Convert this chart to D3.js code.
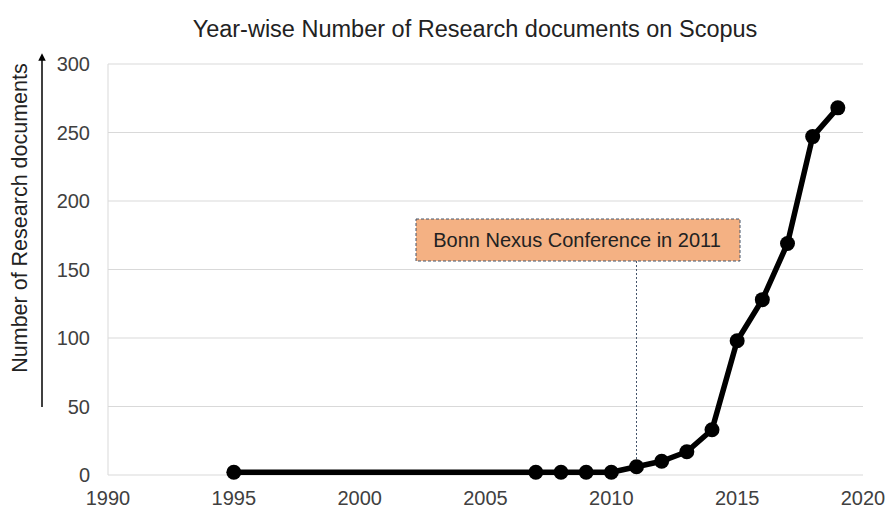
<!DOCTYPE html>
<html>
<head>
<meta charset="utf-8">
<script src="https://cdn.jsdelivr.net/npm/d3@7"></script>
<style>
  body { margin: 0; background: #fff; }
  svg text { font-family: "Liberation Sans", Arial, sans-serif; }
</style>
</head>
<body>
<svg width="887" height="509"></svg>
<script>
const svg = d3.select("svg");

// data
const years = [1995, 2007, 2008, 2009, 2010, 2011, 2012, 2013, 2014, 2015, 2016, 2017, 2018, 2019];
const docs = [2, 2, 2, 2, 2, 6, 10, 17, 33, 98, 128, 169, 247, 268];
const xTicks = [1990, 1995, 2000, 2005, 2010, 2015, 2020];
const yTicks = [0, 50, 100, 150, 200, 250, 300];
const noteYear = 2011;
const noteText = "Bonn Nexus Conference in 2011";

const margin = { left: 108, right: 24, top: 64, bottom: 34 };
const width = 887, height = 509;

const x = d3.scaleLinear().domain([1990, 2020]).range([margin.left, width - margin.right]);
const y = d3.scaleLinear().domain([0, 300]).range([height - margin.bottom, margin.top]);

// gridlines
svg.append("g")
    .selectAll("line")
    .data(yTicks)
    .join("line")
    .attr("x1", x(1990)).attr("x2", x(2020))
    .attr("y1", d => y(d)).attr("y2", d => y(d))
    .attr("stroke", "#d9d9d9").attr("stroke-width", 1);

svg.append("line")
    .attr("x1", x(1990)).attr("x2", x(1990))
    .attr("y1", y(0)).attr("y2", y(300))
    .attr("stroke", "#d9d9d9");

// tick labels
svg.append("g")
    .selectAll("text")
    .data(yTicks)
    .join("text")
    .attr("x", x(1990) - 18)
    .attr("y", d => y(d))
    .attr("dy", "0.35em")
    .attr("text-anchor", "end")
    .attr("font-size", 20)
    .attr("fill", "#404040")
    .text(d => d);

svg.append("g")
    .selectAll("text")
    .data(xTicks)
    .join("text")
    .attr("x", d => x(d))
    .attr("y", 505)
    .attr("text-anchor", "middle")
    .attr("font-size", 20)
    .attr("fill", "#404040")
    .text(d => d);

// title
svg.append("text")
    .attr("x", 475).attr("y", 37)
    .attr("text-anchor", "middle")
    .attr("font-size", 23.5)
    .attr("fill", "#222")
    .text("Year-wise Number of Research documents on Scopus");

// y axis title with arrow
svg.append("defs").append("marker")
    .attr("id", "arrow")
    .attr("viewBox", "0 0 10 10")
    .attr("refX", 5).attr("refY", 5)
    .attr("markerWidth", 5).attr("markerHeight", 5)
    .attr("orient", "auto")
    .append("path")
    .attr("d", "M0,0 L10,5 L0,10 Z")
    .attr("fill", "#000");

svg.append("line")
    .attr("x1", 42).attr("x2", 42)
    .attr("y1", 407).attr("y2", 57)
    .attr("stroke", "#000").attr("stroke-width", 1.5)
    .attr("marker-end", "url(#arrow)");

svg.append("text")
    .attr("transform", "translate(27,218) rotate(-90)")
    .attr("text-anchor", "middle")
    .attr("font-size", 21.5)
    .attr("fill", "#222")
    .text("Number of Research documents");

// annotation
const boxX = 416, boxY = 219, boxW = 324, boxH = 42;
svg.append("line")
    .attr("x1", x(noteYear)).attr("x2", x(noteYear))
    .attr("y1", boxY + boxH).attr("y2", y(docs[years.indexOf(noteYear)]))
    .attr("stroke", "#44546a").attr("stroke-width", 1)
    .attr("stroke-dasharray", "2,2");

svg.append("rect")
    .attr("x", boxX).attr("y", boxY)
    .attr("width", boxW).attr("height", boxH)
    .attr("fill", "#f4b183")
    .attr("stroke", "#44546a").attr("stroke-width", 1)
    .attr("stroke-dasharray", "3,2");

svg.append("text")
    .attr("x", boxX + boxW / 2 - 1).attr("y", boxY + boxH / 2)
    .attr("dy", "0.35em")
    .attr("text-anchor", "middle")
    .attr("font-size", 20)
    .attr("fill", "#222")
    .text(noteText);

// series
const pts = years.map((yr, i) => ({ yr, v: docs[i] }));
svg.append("path")
    .datum(pts)
    .attr("fill", "none")
    .attr("stroke", "#000")
    .attr("stroke-width", 5.5)
    .attr("stroke-linejoin", "round")
    .attr("d", d3.line().x(d => x(d.yr)).y(d => y(d.v)));

svg.append("g")
    .selectAll("circle")
    .data(pts)
    .join("circle")
    .attr("cx", d => x(d.yr))
    .attr("cy", d => y(d.v))
    .attr("r", 7.5)
    .attr("fill", "#000");
</script>
</body>
</html>
